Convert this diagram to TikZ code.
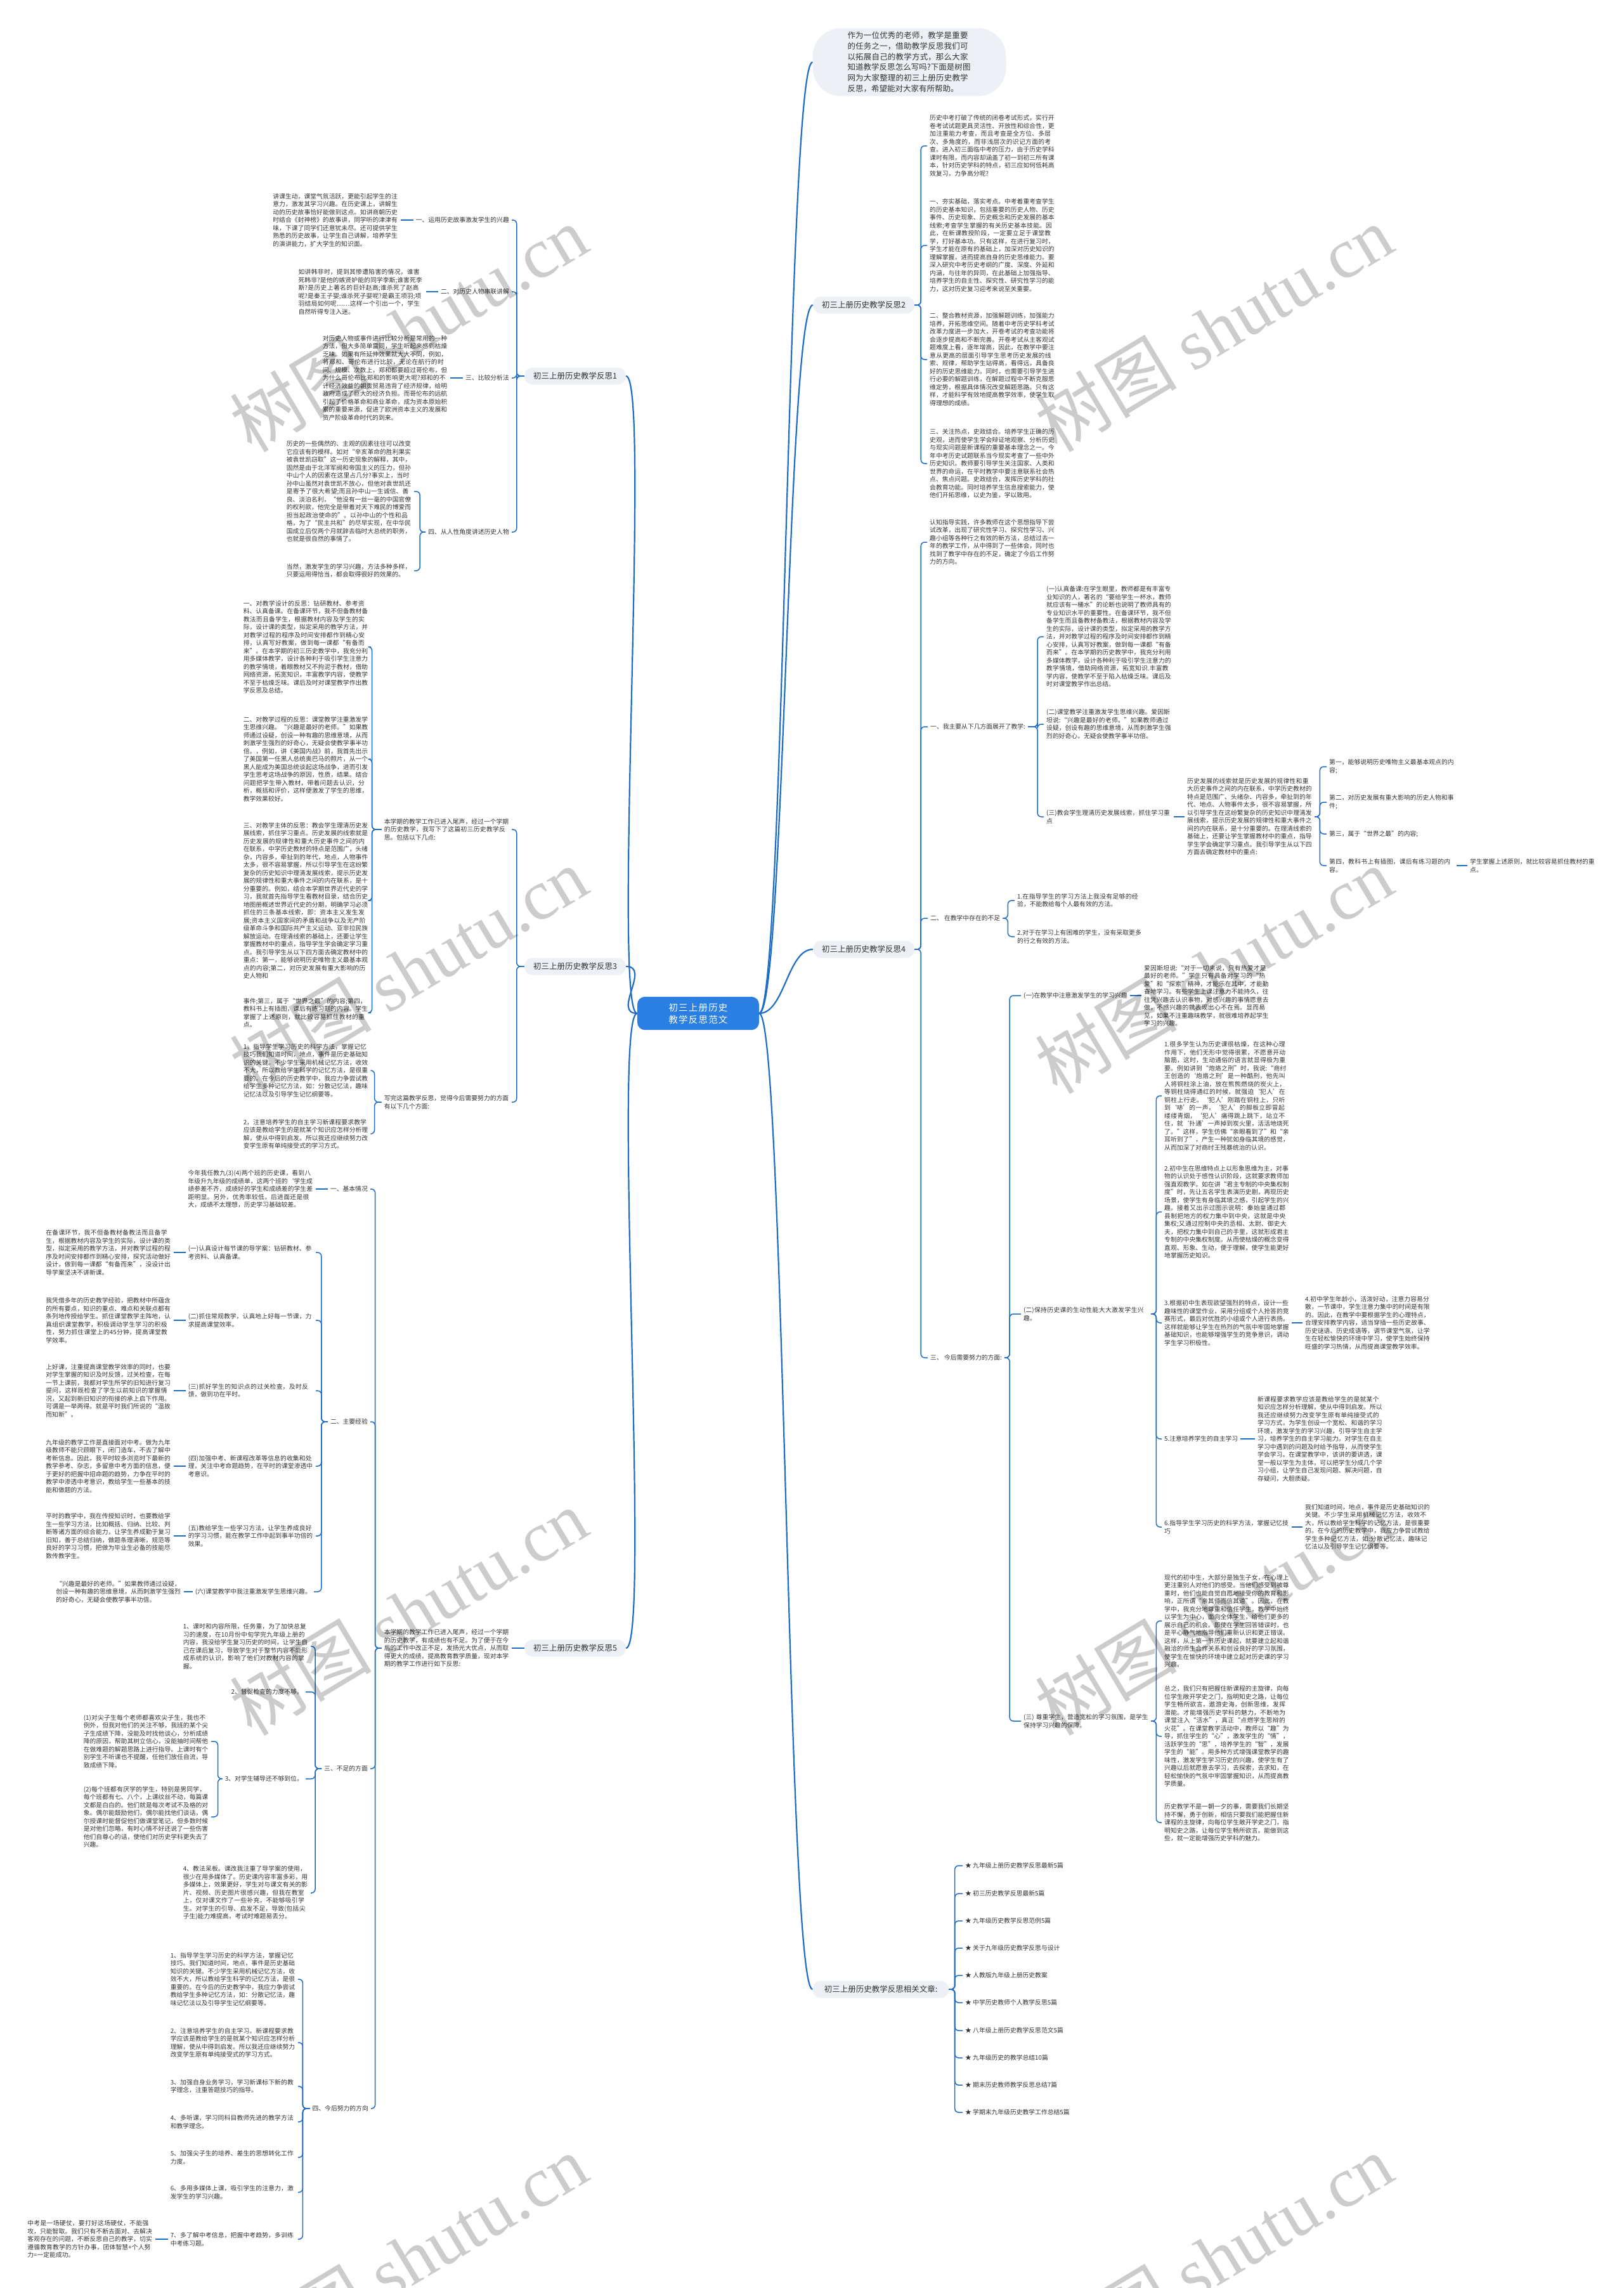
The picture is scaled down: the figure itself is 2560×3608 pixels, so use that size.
\documentclass[tikz,border=0pt]{standalone}
\usepackage{fontspec}
\setmainfont{Noto Sans CJK SC}
\newfontfamily\wmlatin{Liberation Serif}
\usetikzlibrary{positioning}
\XeTeXlinebreaklocale "zh"
\XeTeXlinebreakskip = 0pt plus 1pt

\definecolor{linkblue}{HTML}{1F6CC5}
\definecolor{rootblue}{HTML}{2B7FE3}
\definecolor{topicgray}{HTML}{EDF0F5}
\definecolor{textgray}{HTML}{333333}

\newcommand{\leaffont}{\fontsize{9.8}{12.5}\selectfont}
\newcommand{\topicfont}{\fontsize{12.5}{15}\selectfont}

\tikzstyle{root} = [rectangle, rounded corners=12pt, fill=rootblue, text=white, font=\fontsize{14.5}{19}\selectfont, text width=162pt, align=center, inner xsep=15pt, inner ysep=10pt]
\tikzstyle{intro} = [rectangle, rounded corners=45pt, fill=topicgray, text=textgray, font=\fontsize{12.5}{16.7}\selectfont, text width=195pt, align=left, inner xsep=55pt, inner ysep=6pt]
\tikzstyle{topic} = [rectangle, rounded corners=13pt, fill=topicgray, text=textgray, font=\topicfont, minimum width=160pt, minimum height=27pt, inner sep=0pt]
\tikzstyle{txt} = [text width=197pt, align=left, text=textgray, font=\leaffont, inner xsep=4pt, inner ysep=2pt]
\tikzstyle{lbl} = [text=textgray, font=\leaffont, inner xsep=4pt, inner ysep=2pt]
\tikzstyle{link} = [draw=linkblue, line width=1.5pt, rounded corners=6pt]
\tikzstyle{mainlink} = [draw=linkblue, line width=2.2pt]
\tikzstyle{wmark} = [text=black, text opacity=0.2, font=\fontsize{112}{112}\selectfont, rotate=31]

\begin{document}
\begin{tikzpicture}[x=1pt, y=-1pt]
\path[use as bounding box, fill=white] (0,0) rectangle (2560,3608);

\node (root) [root] at (1101,1598) {初三上册历史教学反思范文};

\node (intro) [intro] at (1434,98) {作为一位优秀的老师，教学是重要的任务之一，借助教学反思我们可以拓展自己的教学方式，那么大家知道教学反思怎么写吗?下面是树图网为大家整理的初三上册历史教学反思，希望能对大家有所帮助。};

% reflection 1
\node (b1) [topic] at (907,593) {初三上册历史教学反思1};
\node (l11) [lbl, anchor=east] at (807,347) {一、运用历史故事激发学生的兴趣};
\node (t11) [txt, left=20pt of l11] {讲课生动，课堂气氛活跃，更能引起学生的注意力，激发其学习兴趣。在历史课上，讲解生动的历史故事恰好能做到这点。如讲商朝历史时结合《封神榜》的故事讲，同学听的津津有味，下课了同学们还意犹未尽。还可提供学生熟悉的历史故事，让学生自己讲解，培养学生的演讲能力，扩大学生的知识面。};
\node (l12) [lbl, anchor=east] at (807,460) {二、对历史人物串联讲解};
\node (t12) [txt, left=19pt of l12] {如讲韩非时，提到其惨遭陷害的情况，谁害死韩非?是他的嫉贤妒能的同学李斯;谁害死李斯?是历史上著名的巨奸赵高;谁杀死了赵高呢?是秦王子婴;谁杀死子婴呢?是霸王项羽;项羽结局如何呢……这样一个引出一个，学生自然听得专注入迷。};
\node (l13) [lbl, anchor=east] at (807,596) {三、比较分析法};
\node (t13) [txt, left=20pt of l13] {对历史人物或事件进行比较分析是常用的一种方法，但大多简单雷同，学生听起来感到枯燥乏味。如果有所延伸效果就大大不同，例如，将郑和、哥伦布进行比较，无论在航行的时间、规模、次数上，郑和都要超过哥伦布，但为什么哥伦布比郑和的影响更大呢?郑和的不计经济效益的朝贡贸易违背了经济规律，给明政府造成了巨大的经济负担。而哥伦布的远航引起了价格革命和商业革命，成为资本原始积累的重要来源，促进了欧洲资本主义的发展和资产阶级革命时代的到来。};
\node (l14) [lbl, anchor=east] at (807,839) {四、从人性角度讲述历史人物};
\node (t141) [txt, anchor=east] at (653,775) {历史的一些偶然的、主观的因素往往可以改变它应该有的模样。如对“辛亥革命的胜利果实被袁世凯窃取”这一历史现象的解释，其中，固然是由于北洋军阀和帝国主义的压力，但孙中山个人的因素在这里占几分?事实上，当时孙中山虽然对袁世凯不放心，但他对袁世凯还是寄予了很大希望;而且孙中山一生诚信、善良、淡泊名利，“他没有一丝一毫的中国官僚的权利欲，他完全是带着对天下难民的博爱而担当起政治使命的”。以孙中山的个性和品格，为了“民主共和”的尽早实现，在中华民国成立后仅两个月就辞去临时大总统的职务，也就是很自然的事情了。};
\node (t142) [txt, anchor=east] at (653,900) {当然，激发学生的学习兴趣，方法多种多样，只要运用得恰当，都会取得很好的效果的。};

% reflection 2
\node (b2) [topic] at (1362,481) {初三上册历史教学反思2};
\node (t21) [txt, anchor=west] at (1462,230) {历史中考打破了传统的闭卷考试形式，实行开卷考试试题更具灵活性、开放性和综合性，更加注重能力考查，而且考查是全方位、多层次、多角度的，而非浅层次的识记方面的考查。进入初三面临中考的压力，由于历史学科课时有限，而内容却涵盖了初一到初三所有课本，针对历史学科的特点，初三应如何低耗高效复习，力争高分呢?};
\node (t22) [txt, anchor=west] at (1462,387) {一、夯实基础，落实考点。中考着重考查学生的历史基本知识，包括重要的历史人物、历史事件、历史现象、历史概念和历史发展的基本线索;考查学生掌握的有关历史基本技能。因此，在新课教授阶段，一定要立足于课堂教学，打好基本功。只有这样，在进行复习时，学生才能在原有的基础上，加深对历史知识的理解掌握，进而提高自身的历史思维能力。要深入研究中考历史考纲的广度、深度、外延和内涵，与往年的异同，在此基础上加强指导、培养学生的自主性、探究性、研究性学习的能力，这对历史复习迎考来说至关重要。};
\node (t23) [txt, anchor=west] at (1462,567) {二、整合教材资源，加强解题训练，加强能力培养，开拓思维空间。随着中考历史学科考试改革力度进一步加大，开卷考试的考查功能将会逐步提高和不断完善。开卷考试从主客观试题难度上看，逐年增高，因此，在教学中要注意从更高的层面引导学生思考历史发展的线索、规律，帮助学生站得高，看得远，具备良好的历史思维能力。同时，也需要引导学生进行必要的解题训练，在解题过程中不断克服思维定势，根据具体情况改变解题思路。只有这样，才能科学有效地提高教学效率，使学生取得理想的成绩。};
\node (t24) [txt, anchor=west] at (1462,731) {三、关注热点，史政结合。培养学生正确的历史观，进而使学生学会辩证地观察、分析历史与现实问题是新课程的重要基本理念之一。今年中考历史试题联系当今现实考查了一些中外历史知识。教师要引导学生关注国家、人类和世界的命运，在平时教学中要注意联系社会热点、焦点问题。史政结合，发挥历史学科的社会教育功能。同时培养学生信息搜索能力，使他们开拓思维，以史为鉴，学以致用。};

% reflection 3
\node (b3) [topic] at (907,1524) {初三上册历史教学反思3};
\node (l31) [txt, anchor=east] at (807,1308) {本学期的教学工作已进入尾声，经过一个学期的历史教学，我写下了这篇初三历史教学反思。包括以下几点:};
\node (r1) [txt, anchor=east] at (585,1020) {一、对教学设计的反思：钻研教材、参考资料、认真备课。在备课环节，我不但备教材备教法而且备学生，根据教材内容及学生的实际，设计课的类型，拟定采用的教学方法，并对教学过程的程序及时间安排都作到精心安排，认真写好教案，做到每一课都“有备而来”。在本学期的初三历史教学中，我充分利用多媒体教学，设计各种利于吸引学生注意力的教学情境，着眼教材又不拘泥于教材，借助网络资源，拓宽知识，丰富教学内容，使教学不至于枯燥乏味。课后及时对课堂教学作出教学反思及总结。};
\node (r2) [txt, anchor=east] at (585,1197) {二、对教学过程的反思：课堂教学注重激发学生思维兴趣。“兴趣是最好的老师。”如果教师通过设疑，创设一种有趣的思维意境，从而刺激学生强烈的好奇心，无疑会使教学事半功倍。，例如，讲《美国内战》前，我首先出示了美国第一任黑人总统奥巴马的照片，从一个黑人能成为美国总统谈起这场战争，进而引发学生思考这场战争的原因，性质，结果。结合问题把学生带入教材，带着问题去认识，分析，概括和评价，这样便激发了学生的思维，教学效果较好。};
\node (r3) [txt, anchor=east] at (585,1420) {三、对教学主体的反思：教会学生理清历史发展线索，抓住学习重点。历史发展的线索就是历史发展的规律性和重大历史事件之间的内在联系，中学历史教材的特点是范围广，头绪杂，内容多，牵扯到的年代，地点，人物事件太多，很不容易掌握，所以引导学生在这纷繁复杂的历史知识中理清发展线索，提示历史发展的规律性和重大事件之间的内在联系，是十分重要的。例如，结合本学期世界近代史的学习，我就首先指导学生看教材目录，结合历史地图册概述世界近代史的分期，明确学习必须抓住的三条基本线索，即：资本主义发生发展;资本主义国家间的矛盾和战争以及无产阶级革命斗争和国际共产主义运动、亚非拉民族解放运动。在理清线索的基础上，还要让学生掌握教材中的重点，指导学生学会确定学习重点。我引导学生从以下四方面去确定教材中的重点：第一，能够说明历史唯物主义最基本观点的内容;第二，对历史发展有重大影响的历史人物和};
\node (r4) [txt, anchor=east] at (585,1597) {事件;第三，属于“世界之最”的内容;第四，教科书上有插图，课后有练习题的内容。学生掌握了上述原则，就比较容易抓住教材的重点。};
\node (l32) [txt, anchor=east] at (807,1738) {写完这篇教学反思，觉得今后需要努力的方面有以下几个方面:};
\node (w1) [txt, anchor=east] at (585,1688) {1，指导学生学习历史的科学方法，掌握记忆技巧我们知道时间，地点，事件是历史基础知识的关键。不少学生采用机械记忆方法，收效不大，所以教给学生科学的记忆方法，是很重要的。在今后的历史教学中，我应力争尝试教给学生多种记忆方法，如：分散记忆法，趣味记忆法以及引导学生记忆纲要等。};
\node (w2) [txt, anchor=east] at (585,1788) {2，注意培养学生的自主学习新课程要求教学应该是教给学生的是就某个知识应怎样分析理解，使从中得到启发。所以我还应继续努力改变学生原有单纯接受式的学习方式。};

% reflection 4
\node (b4) [topic] at (1362,1497) {初三上册历史教学反思4};
\node (e4) [txt, anchor=west] at (1462,855) {认知指导实践，许多教师在这个思想指导下尝试改革，出现了研究性学习、探究性学习、兴趣小组等各种行之有效的新方法，总结过去一年的教学工作，从中得到了一些体会，同时也找到了教学中存在的不足，确定了今后工作努力的方向。};
\node (l41) [lbl, anchor=west] at (1463,1146) {一、我主要从下几方面展开了教学:};
\node (t411) [txt, anchor=west] at (1646,1004) {(一)认真备课:在学生眼里，教师都是有丰富专业知识的人，著名的“要给学生一杯水，教师就应该有一桶水”的论断也说明了教师具有的专业知识水平的重要性。在备课环节，我不但备学生而且备教材备教法，根据教材内容及学生的实际，设计课的类型，拟定采用的教学方法，并对教学过程的程序及时间安排都作到精心安排，认真写好教案，做到每一课都“有备而来”。在本学期的历史教学中，我充分利用多媒体教学，设计各种利于吸引学生注意力的教学情境，借助网络资源，拓宽知识.丰富教学内容，使教学不至于陷入枯燥乏味。课后及时对课堂教学作出总结。};
\node (t412) [txt, anchor=west] at (1646,1142) {(二)课堂教学注重激发学生思维兴趣。爱因斯坦说:“兴趣是最好的老师。”如果教师通过设疑，创设有趣的思维意境，从而刺激学生强烈的好奇心，无疑会使教学事半功倍。};
\node (t413) [txt, anchor=west] at (1646,1288) {(三)教会学生理清历史发展线索，抓住学习重点};
\node (t4131) [txt, anchor=west] at (1868,1288) {历史发展的线索就是历史发展的规律性和重大历史事件之间的内在联系，中学历史教材的特点是范围广、头绪杂、内容多，牵扯到的年代、地点、人物事件太多，很不容易掌握，所以引导学生在这纷繁复杂的历史知识中理清发展线索，提示历史发展的规律性和重大事件之间的内在联系，是十分重要的。在理清线索的基础上，还要让学生掌握教材中的重点，指导学生学会确定学习重点。我引导学生从以下四方面去确定教材中的重点:};
\node (q1) [txt, anchor=west] at (2092,1209) {第一，能够说明历史唯物主义最基本观点的内容;};
\node (q2) [txt, anchor=west] at (2092,1265) {第二，对历史发展有重大影响的历史人物和事件;};
\node (q3) [lbl, anchor=west] at (2092,1315) {第三，属于“世界之最”的内容;};
\node (q4) [txt, anchor=west] at (2092,1365) {第四，教科书上有插图，课后有练习题的内容。};
\node (q4x) [txt, anchor=west] at (2314,1365) {学生掌握上述原则，就比较容易抓住教材的重点。};
\node (l42) [lbl, anchor=west] at (1463,1448) {二、 在教学中存在的不足};
\node (t421) [txt, anchor=west] at (1600,1420) {1.在指导学生的学习方法上我没有足够的经验，不能教给每个人最有效的方法。};
\node (t422) [txt, anchor=west] at (1600,1477) {2.对于在学习上有困难的学生，没有采取更多的行之有效的方法。};
\node (l43) [lbl, anchor=west] at (1463,2141) {三、 今后需要努力的方面:};
\node (l431) [lbl, anchor=west] at (1610,1570) {(一)在教学中注意激发学生的学习兴趣};
\node (t4311) [txt, anchor=west] at (1800,1570) {爱因斯坦说:“对于一切来说，只有热爱才是最好的老师。”学生只有具备对学习的“热爱”和“探索”精神，才能乐在其中，才能勤奋地学习。有些学生上课注意力不能持久，往往凭兴趣去认识事物，对感兴趣的事情愿意去做，不感兴趣的就表现出心不在焉。显而易见，如果不注重趣味教学，就很难培养起学生学习的兴趣。};
\node (t432) [txt, anchor=west] at (1610,2072) {(二)保持历史课的生动性能大大激发学生兴趣。};
\node (c1) [txt, anchor=west] at (1832,1728) {1.很多学生认为历史课很枯燥，在这种心理作用下，他们无形中觉得很累，不愿意开动脑筋，这时，生动通俗的语言就显得极为重要。例如讲到“炮烙之刑”时，我说:“商纣王创造的‘炮烙之刑’是一种酷刑，他先叫人将铜柱涂上油，放在熊熊燃烧的炭火上，等铜柱烧得通红的时候，就强迫‘犯人’在铜柱上行走。‘犯人’刚踏在铜柱上，只听到‘哧’的一声，‘犯人’的脚板立即冒起缕缕青烟，‘犯人’痛得跳上跳下，站立不住，就‘扑通’一声掉到炭火里，活活地烧死了。”这样，学生仿佛“亲眼看到了”和“亲耳听到了”，产生一种犹如身临其境的感觉，从而加深了对商纣王残暴统治的认识。};
\node (c2) [txt, anchor=west] at (1832,1911) {2.初中生在思维特点上以形象思维为主，对事物的认识处于感性认识阶段，这就要求教师加强直观教学。如在讲“君主专制的中央集权制度”时，先让五名学生表演历史剧，再现历史场景，使学生有身临其境之感，引起学生的兴趣。接着又出示过图示说明：秦始皇通过郡县制把地方的权力集中到中央，这就是中央集权;又通过控制中央的丞相、太尉、御史大夫，把权力集中到自己的手里，这就形成君主专制的中央集权制度。从而使枯燥的概念变得直观、形象、生动，便于理解，使学生能更好地掌握历史知识。};
\node (c3) [txt, anchor=west] at (1832,2086) {3.根据初中生表现欲望强烈的特点，设计一些趣味性的课堂作业，采用分组或个人抢答的竞赛形式，最后对优胜的小组或个人进行表扬。这样就能够让学生在热烈的气氛中牢固地掌握基础知识，也能够增强学生的竞争意识，调动学生学习积极性。};
\node (c3x) [txt, anchor=west] at (2054,2086) {4.初中学生年龄小，活泼好动，注意力容易分散，一节课中，学生注意力集中的时间是有限的。因此，在教学中要根据学生的心理特点，合理安排教学内容，适当穿插一些历史故事、历史谜语、历史成语等，调节课堂气氛，让学生在轻松愉快的环境中学习，使学生始终保持旺盛的学习热情，从而提高课堂教学效率。};
\node (c5) [lbl, anchor=west] at (1832,2269) {5.注意培养学生的自主学习};
\node (c5x) [txt, anchor=west] at (1979,2269) {新课程要求教学应该是教给学生的是就某个知识应怎样分析理解，使从中得到启发。所以我还应继续努力改变学生原有单纯接受式的学习方式，为学生创设一个宽松、和谐的学习环境，激发学生的学习兴趣，引导学生自主学习，培养学生的自主学习能力。对学生在自主学习中遇到的问题及时给予指导，从而使学生学会学习。在课堂教学中，该讲的要讲透，课堂一般以学生为主体，可以把学生分成几个学习小组，让学生自己发现问题、解决问题，自存疑问，大胆质疑。};
\node (c6) [txt, anchor=west] at (1832,2408) {6.指导学生学习历史的科学方法，掌握记忆技巧};
\node (c6x) [txt, anchor=west] at (2054,2408) {我们知道时间，地点，事件是历史基础知识的关键。不少学生采用机械记忆方法，收效不大，所以教给学生科学的记忆方法，是很重要的。在今后的历史教学中，我应力争尝试教给学生多种记忆方法，如:分散记忆法，趣味记忆法以及引导学生记忆纲要等。};
\node (t433) [txt, anchor=west] at (1610,2714) {(三) 尊重学生，营造宽松的学习氛围，是学生保持学习兴趣的保障。};
\node (d1) [txt, anchor=west] at (1832,2556) {现代的初中生，大部分是独生子女，在心理上更注重别人对他们的感受。当他们感受到被尊重时，他们也能自觉自愿地接受你的教育和影响，正所谓“亲其师而信其道”。因此，在教学中，我充分地尊重和信任学生，教学中始终以学生为中心，面向全体学生，给他们更多的展示自己的机会。即使在学生回答错误时，也是平心静气地指导他们重新认识和更正错误。这样，从上第一节历史课起，就要建立起和谐融洽的师生合作关系和创设良好的学习氛围，使学生在愉快的环境中建立起对历史课的学习兴趣。};
\node (d2) [txt, anchor=west] at (1832,2738) {总之，我们只有把握住新课程的主旋律，向每位学生敞开学史之门，指明知史之路，让每位学生畅所欲言，遨游史海，创新思维，发挥潜能。才能增强历史学科的魅力，不断地为课堂注入“活水”，真正“点燃学生思辩的火花”。在课堂教学活动中，教师以“趣”为导，抓住学生的“心”，激发学生的“情”，活跃学生的“思”，培养学生的“智”，发展学生的“能”。用多种方式增强课堂教学的趣味性，激发学生学习历史的兴趣，使学生有了兴趣以后就愿意去学习，去探索，去求知，在轻松愉快的气氛中牢固掌握知识，从而提高教学质量。};
\node (d3) [txt, anchor=west] at (1832,2874) {历史教学不是一朝一夕的事，需要我们长期坚持不懈，勇于创新，相信只要我们能把握住新课程的主旋律，向每位学生敞开学史之门，指明知史之路，让每位学生畅所欲言。能做到这些，就一定能增强历史学科的魅力。};

% reflection 5
\node (b5) [topic] at (907,2599) {初三上册历史教学反思5};
\node (p5) [txt, anchor=east] at (807,2599) {本学期的教学工作已进入尾声，经过一个学期的历史教学，有成绩也有不足。为了便于在今后的工作中改正不足，发扬光大优点，从而取得更大的成绩，提高教育教学质量，现对本学期的教学工作进行如下反思:};
\node (l51) [lbl, anchor=east] at (584,1875) {一、基本情况};
\node (t51) [txt, left=19pt of l51] {今年我任教九(3)(4)两个班的历史课，看到八年级升九年级的成绩单，这两个班的`学生成绩参差不齐，成绩好的学生和成绩差的学生差距明显。另外，优秀率较低，后进面还是很大，成绩不太理想，历史学习基础较差。};
\node (l52) [lbl, anchor=east] at (584,2242) {二、主要经验};
\node (s1) [txt, anchor=east] at (498,1975) {(一)认真设计每节课的导学案：钻研教材、参考资料、认真备课。};
\node (s1x) [txt, left=19pt of s1] {在备课环节，我不但备教材备教法而且备学生，根据教材内容及学生的实际，设计课的类型，拟定采用的教学方法，并对教学过程的程序及时间安排都作到精心安排，探究活动做好设计，做到每一课都“有备而来”，没设计出导学案坚决不讲新课。};
\node (s2) [txt, anchor=east] at (498,2082) {(二)抓住常规教学，认真地上好每一节课，力求提高课堂效率。};
\node (s2x) [txt, left=19pt of s2] {我凭借多年的历史教学经验，把教材中所蕴含的所有要点，知识的重点、难点和关联点都有条列地传授给学生。抓住课堂教学主阵地，认真组织课堂教学，积极调动学生学习的积极性，努力抓住课堂上的45分钟，提高课堂教学效率。};
\node (s3) [txt, anchor=east] at (498,2193) {(三)抓好学生的知识点的过关检查，及时反馈，做到功在平时。};
\node (s3x) [txt, left=19pt of s3] {上好课，注重提高课堂教学效率的同时，也要对学生掌握的知识及时反馈，过关检查，在每一节上课前，我都对学生所学的旧知进行复习提问，这样既检查了学生以前知识的掌握情况，又起到新旧知识的衔接的承上启下作用。可谓是一举两得。就是平时我们所说的“温故而知新”。};
\node (s4) [txt, anchor=east] at (498,2312) {(四)加强中考、新课程改革等信息的收集和处理，关注中考命题趋势，在平时的课堂渗透中考意识。};
\node (s4x) [txt, left=19pt of s4] {九年级的教学工作是直接面对中考。做为九年级教师不能只顾眼下，闭门造车，不去了解中考新信息。因此，我平时较多浏览时下最新的教学参考、杂志，多留意中考方面的信息，便于更好的把握中招命题的趋势，力争在平时的教学中渗透中考意识，教给学生一些基本的技能和做题的方法。};
\node (s5) [txt, anchor=east] at (498,2422) {(五)教给学生一些学习方法，让学生养成良好的学习习惯，能在教学工作中起到事半功倍的效果。};
\node (s5x) [txt, left=19pt of s5] {平时的教学中，我在传授知识时，也要教给学生一些学习方法，比如概括、归纳、比较、判断等诸方面的综合能力，让学生养成勤于复习旧知，善于总结归纳，做题条理清晰，规范等良好的学习习惯，把做为毕业生必备的技能尽数传教学生。};
\node (s6) [lbl, anchor=east] at (495,2510) {(六)课堂教学中我注重激发学生思维兴趣。};
\node (s6x) [txt, left=14pt of s6] {“兴趣是最好的老师。”如果教师通过设疑，创设一种有趣的思维意境，从而刺激学生强烈的好奇心，无疑会使教学事半功倍。};
\node (l53) [lbl, anchor=east] at (584,2789) {三、不足的方面};
\node (n1) [txt, anchor=east] at (490,2596) {1、课时和内容所限，任务重，为了加快总复习的速度，在10月份中旬学完九年级上册的内容，我没给学生复习历史的时间，让学生自己在课后复习，导致学生对于整节内容不能形成系统的认识，影响了他们对教材内容的掌握。};
\node (n2) [lbl, anchor=east] at (482,2668) {2、督促检查的力度不够。};
\node (n3) [lbl, anchor=east] at (482,2805) {3、对学生辅导还不够到位。};
\node (n31) [txt, anchor=east] at (333,2746) {(1)对尖子生每个老师都喜欢尖子生，我也不例外，但我对他们的关注不够，我班的某个尖子生成绩下降，没能及时找他谈心，分析成绩降的原因，帮助其树立信心，没能抽时间帮他在做难题的解题思路上进行指导。上课时有个别学生不听课也不提醒，任他们放任自流，导致成绩下降。};
\node (n32) [txt, anchor=east] at (333,2865) {(2)每个班都有厌学的学生，特别是男同学，每个班都有七、八个，上课纹丝不动，每篇课文都是白白的。他们就是每次考试不及格的对象。偶尔能鼓励他们，偶尔能找他们谈话，偶尔授课时能督促他们做课堂笔记，但多数时候是对他们忽略，有时心情不好还说了一些伤害他们自尊心的话，使他们对历史学科更失去了兴趣。};
\node (n4) [txt, anchor=east] at (490,2985) {4、教法呆板。课改我注重了导学案的使用，很少在用多媒体了。历史课内容丰富多彩，用多媒体上，效果更好，学生对与课文有关的影片、视频、历史图片很感兴趣，但我在教室上，仅对课文作了一些补充，不能够吸引学生。对学生的引导、启发不足，导致(包括尖子生)能力难提高，考试时难题易丢分。};
\node (l54) [lbl, anchor=east] at (585,3325) {四、今后努力的方向};
\node (f1) [txt, anchor=east] at (470,3121) {1、指导学生学习历史的科学方法，掌握记忆技巧。我们知道时间，地点，事件是历史基础知识的关键。不少学生采用机械记忆方法，收效不大，所以教给学生科学的记忆方法，是很重要的。在今后的历史教学中，我应力争尝试教给学生多种记忆方法，如：分散记忆法，趣味记忆法以及引导学生记忆纲要等。};
\node (f2) [txt, anchor=east] at (470,3221) {2、注意培养学生的自主学习。新课程要求教学应该是教给学生的是就某个知识应怎样分析理解，使从中得到启发。所以我还应继续努力改变学生原有单纯接受式的学习方式。};
\node (f3) [txt, anchor=east] at (470,3290) {3、加强自身业务学习，学习新课标下新的教学理念，注重答题技巧的指导。};
\node (f4) [txt, anchor=east] at (470,3346) {4、多听课，学习同科目教师先进的教学方法和教学理念。};
\node (f5) [txt, anchor=east] at (470,3402) {5、加强尖子生的培养、差生的思想转化工作力度。};
\node (f6) [txt, anchor=east] at (470,3457) {6、多用多媒体上课，吸引学生的注意力，激发学生的学习兴趣。};
\node (f7) [txt, anchor=east] at (470,3531) {7、多了解中考信息，把握中考趋势，多训练中考练习题。};
\node (f7x) [txt, left=20pt of f7] {中考是一场硬仗，要打好这场硬仗，不能强攻，只能智取。我们只有不断去面对、去解决客观存在的问题，不断反思自己的教学，切实遵循教育教学的方针办事，团体智慧+个人努力=一定能成功。};

% related articles
\node (rel) [topic, minimum width=215pt] at (1389,3137) {初三上册历史教学反思相关文章:};
\node (k1) [lbl, anchor=west] at (1518,2942) {★ 九年级上册历史教学反思最新5篇};
\node (k2) [lbl, anchor=west] at (1518,2986) {★ 初三历史教学反思最新5篇};
\node (k3) [lbl, anchor=west] at (1518,3029) {★ 九年级历史教学反思范例5篇};
\node (k4) [lbl, anchor=west] at (1518,3072) {★ 关于九年级历史教学反思与设计};
\node (k5) [lbl, anchor=west] at (1518,3115) {★ 人教版九年级上册历史教案};
\node (k6) [lbl, anchor=west] at (1518,3158) {★ 中学历史教师个人教学反思5篇};
\node (k7) [lbl, anchor=west] at (1518,3202) {★ 八年级上册历史教学反思范文5篇};
\node (k8) [lbl, anchor=west] at (1518,3245) {★ 九年级历史的教学总结10篇};
\node (k9) [lbl, anchor=west] at (1518,3288) {★ 期末历史教师教学反思总结7篇};
\node (k10) [lbl, anchor=west] at (1518,3331) {★ 学期末九年级历史教学工作总结5篇};

% root links
\draw [mainlink] (root.east) .. controls +(40,0) and +(-40,0) .. (intro.west);
\draw [mainlink] (root.east) .. controls +(40,0) and +(-40,0) .. (b2.west);
\draw [mainlink] (root.east) .. controls +(40,0) and +(-40,0) .. (b4.west);
\draw [mainlink] (root.east) .. controls +(40,0) and +(-40,0) .. (rel.west);
\draw [mainlink] (root.west) .. controls +(-40,0) and +(40,0) .. (b1.east);
\draw [mainlink] (root.west) .. controls +(-40,0) and +(40,0) .. (b3.east);
\draw [mainlink] (root.west) .. controls +(-40,0) and +(40,0) .. (b5.east);

\draw [link] (b1.west) -- ++(-12,0) |- (l11.east);
\draw [link] (b1.west) -- ++(-12,0) |- (l12.east);
\draw [link] (b1.west) -- ++(-12,0) |- (l13.east);
\draw [link] (b1.west) -- ++(-12,0) |- (l14.east);
\draw [link] (l11.west) -- (t11.east);
\draw [link] (l12.west) -- (t12.east);
\draw [link] (l13.west) -- (t13.east);
\draw [link] (l14.west) -- ++(-9,0) |- (t141.east);
\draw [link] (l14.west) -- ++(-9,0) |- (t142.east);

\draw [link] (b2.east) -- ++(10,0) |- (t21.west);
\draw [link] (b2.east) -- ++(10,0) |- (t22.west);
\draw [link] (b2.east) -- ++(10,0) |- (t23.west);
\draw [link] (b2.east) -- ++(10,0) |- (t24.west);

\draw [link] (b3.west) -- ++(-12,0) |- (l31.east);
\draw [link] (b3.west) -- ++(-12,0) |- (l32.east);
\draw [link] (l31.west) -- ++(-15,0) |- (r1.east);
\draw [link] (l31.west) -- ++(-15,0) |- (r2.east);
\draw [link] (l31.west) -- ++(-15,0) |- (r3.east);
\draw [link] (l31.west) -- ++(-15,0) |- (r4.east);
\draw [link] (l32.west) -- ++(-11,0) |- (w1.east);
\draw [link] (l32.west) -- ++(-11,0) |- (w2.east);

\draw [link] (b4.east) -- ++(10,0) |- (e4.west);
\draw [link] (b4.east) -- ++(10,0) |- (l41.west);
\draw [link] (b4.east) -- ++(10,0) |- (l42.west);
\draw [link] (b4.east) -- ++(10,0) |- (l43.west);
\draw [link] (l41.east) -- ++(15,0) |- (t411.west);
\draw [link] (l41.east) -- ++(15,0) |- (t412.west);
\draw [link] (l41.east) -- ++(15,0) |- (t413.west);
\draw [link] (t413.east) -- (t4131.west);
\draw [link] (t4131.east) -- ++(8,0) |- (q1.west);
\draw [link] (t4131.east) -- ++(8,0) |- (q2.west);
\draw [link] (t4131.east) -- ++(8,0) |- (q3.west);
\draw [link] (t4131.east) -- ++(8,0) |- (q4.west);
\draw [link] (q4.east) -- (q4x.west);
\draw [link] (l42.east) -- ++(8,0) |- (t421.west);
\draw [link] (l42.east) -- ++(8,0) |- (t422.west);
\draw [link] (l43.east) -- ++(8,0) |- (l431.west);
\draw [link] (l43.east) -- ++(8,0) |- (t432.west);
\draw [link] (l43.east) -- ++(8,0) |- (t433.west);
\draw [link] (l431.east) -- (t4311.west);
\draw [link] (t432.east) -- ++(8,0) |- (c1.west);
\draw [link] (t432.east) -- ++(8,0) |- (c2.west);
\draw [link] (t432.east) -- ++(8,0) |- (c3.west);
\draw [link] (t432.east) -- ++(8,0) |- (c5.west);
\draw [link] (t432.east) -- ++(8,0) |- (c6.west);
\draw [link] (c3.east) -- (c3x.west);
\draw [link] (c5.east) -- (c5x.west);
\draw [link] (c6.east) -- (c6x.west);
\draw [link] (t433.east) -- ++(8,0) |- (d1.west);
\draw [link] (t433.east) -- ++(8,0) |- (d2.west);
\draw [link] (t433.east) -- ++(8,0) |- (d3.west);

\draw [link] (b5.west) -- (p5.east);
\draw [link] (p5.west) -- ++(-10,0) |- (l51.east);
\draw [link] (p5.west) -- ++(-10,0) |- (l52.east);
\draw [link] (p5.west) -- ++(-10,0) |- (l53.east);
\draw [link] (p5.west) -- ++(-10,0) |- (l54.east);
\draw [link] (l51.west) -- (t51.east);
\draw [link] (l52.west) -- ++(-10,0) |- (s1.east);
\draw [link] (l52.west) -- ++(-10,0) |- (s2.east);
\draw [link] (l52.west) -- ++(-10,0) |- (s3.east);
\draw [link] (l52.west) -- ++(-10,0) |- (s4.east);
\draw [link] (l52.west) -- ++(-10,0) |- (s5.east);
\draw [link] (l52.west) -- ++(-10,0) |- (s6.east);
\draw [link] (s1.west) -- (s1x.east);
\draw [link] (s2.west) -- (s2x.east);
\draw [link] (s3.west) -- (s3x.east);
\draw [link] (s4.west) -- (s4x.east);
\draw [link] (s5.west) -- (s5x.east);
\draw [link] (s6.west) -- (s6x.east);
\draw [link] (l53.west) -- ++(-10,0) |- (n1.east);
\draw [link] (l53.west) -- ++(-10,0) |- (n2.east);
\draw [link] (l53.west) -- ++(-10,0) |- (n3.east);
\draw [link] (l53.west) -- ++(-10,0) |- (n4.east);
\draw [link] (n3.west) -- ++(-7,0) |- (n31.east);
\draw [link] (n3.west) -- ++(-7,0) |- (n32.east);
\draw [link] (l54.west) -- ++(-11,0) |- (f1.east);
\draw [link] (l54.west) -- ++(-11,0) |- (f2.east);
\draw [link] (l54.west) -- ++(-11,0) |- (f3.east);
\draw [link] (l54.west) -- ++(-11,0) |- (f4.east);
\draw [link] (l54.west) -- ++(-11,0) |- (f5.east);
\draw [link] (l54.west) -- ++(-11,0) |- (f6.east);
\draw [link] (l54.west) -- ++(-11,0) |- (f7.east);
\draw [link] (f7.west) -- (f7x.east);

\draw [link] (rel.east) -- ++(9,0) |- (k1.west);
\draw [link] (rel.east) -- ++(9,0) |- (k2.west);
\draw [link] (rel.east) -- ++(9,0) |- (k3.west);
\draw [link] (rel.east) -- ++(9,0) |- (k4.west);
\draw [link] (rel.east) -- ++(9,0) |- (k5.west);
\draw [link] (rel.east) -- ++(9,0) |- (k6.west);
\draw [link] (rel.east) -- ++(9,0) |- (k7.west);
\draw [link] (rel.east) -- ++(9,0) |- (k8.west);
\draw [link] (rel.east) -- ++(9,0) |- (k9.west);
\draw [link] (rel.east) -- ++(9,0) |- (k10.west);

% watermark
\node (wm1) [wmark] at (644,518) {树图 {\wmlatin shutu.cn}};
\node (wm2) [wmark] at (1914,518) {树图 {\wmlatin shutu.cn}};
\node (wm3) [wmark] at (644,1530) {树图 {\wmlatin shutu.cn}};
\node (wm4) [wmark] at (1914,1530) {树图 {\wmlatin shutu.cn}};
\node (wm5) [wmark] at (644,2542) {树图 {\wmlatin shutu.cn}};
\node (wm6) [wmark] at (1914,2542) {树图 {\wmlatin shutu.cn}};
\node (wm7) [wmark] at (644,3560) {树图 {\wmlatin shutu.cn}};
\node (wm8) [wmark] at (1914,3560) {树图 {\wmlatin shutu.cn}};
\end{tikzpicture}
\end{document}
